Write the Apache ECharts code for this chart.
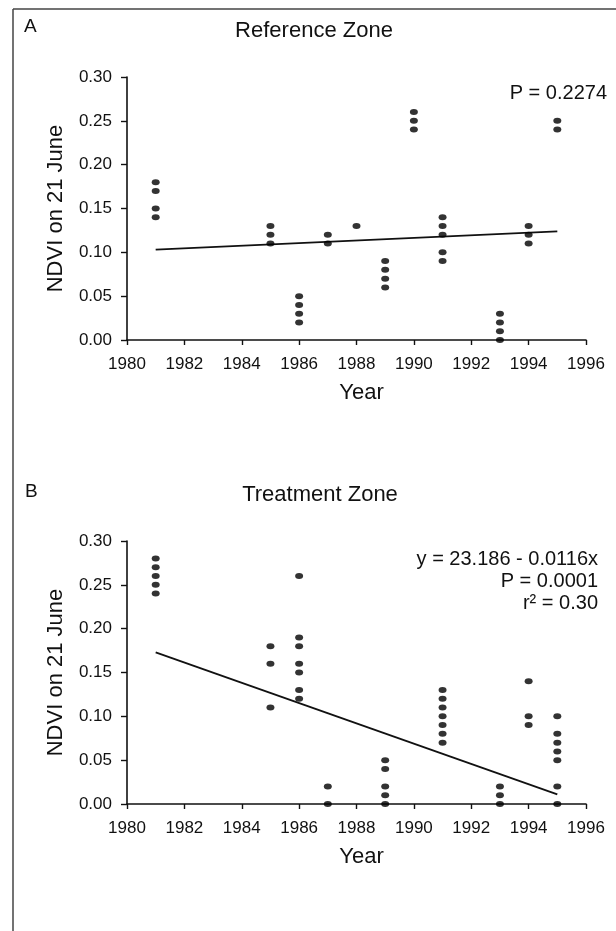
<!DOCTYPE html>
<html>
<head>
<meta charset="utf-8">
<script src="https://cdn.jsdelivr.net/npm/echarts@6/dist/echarts.min.js"></script>
<style>
html,body{margin:0;padding:0;background:#fff;}
#chart{width:616px;height:931px;}
</style>
</head>
<body>
<div id="chart"></div>
<script>
// Panel A: Reference Zone — [year, NDVI]
const refYears  = [1981,1981,1981,1981, 1985,1985,1985, 1986,1986,1986,1986, 1987,1987, 1988, 1989,1989,1989,1989, 1990,1990,1990, 1991,1991,1991,1991,1991, 1993,1993,1993,1993, 1994,1994,1994, 1995,1995];
const refNdvi   = [0.18,0.17,0.15,0.14, 0.13,0.12,0.11, 0.05,0.04,0.03,0.02, 0.12,0.11, 0.13, 0.09,0.08,0.07,0.06, 0.26,0.25,0.24, 0.14,0.13,0.12,0.10,0.09, 0.03,0.02,0.01,0.00, 0.13,0.12,0.11, 0.25,0.24];
const refLineX  = [1981, 1995];
const refLineY  = [0.103, 0.124];

// Panel B: Treatment Zone — [year, NDVI]
const trtYears  = [1981,1981,1981,1981,1981, 1985,1985,1985, 1986,1986,1986,1986,1986,1986,1986, 1987,1987, 1989,1989,1989,1989,1989, 1991,1991,1991,1991,1991,1991,1991, 1993,1993,1993, 1994,1994,1994, 1995,1995,1995,1995,1995,1995,1995];
const trtNdvi   = [0.28,0.27,0.26,0.25,0.24, 0.18,0.16,0.11, 0.26,0.19,0.18,0.16,0.15,0.13,0.12, 0.02,0.00, 0.05,0.04,0.02,0.01,0.00, 0.13,0.12,0.11,0.10,0.09,0.08,0.07, 0.02,0.01,0.00, 0.14,0.10,0.09, 0.10,0.08,0.07,0.06,0.05,0.02,0.00];
const trtLineX  = [1981, 1995];
const trtLineY  = [0.173, 0.011];

// Axis ticks
const xMin = 1980, xMax = 1996, xStep = 2;
const yMin = 0, yMax = 0.30, yStep = 0.05;

const titles = ['Reference Zone', 'Treatment Zone'];
const panelLetters = ['A', 'B'];
const annotA = 'P = 0.2274';
const annotB = 'y = 23.186 - 0.0116x\nP = 0.0001\nr\u00B2 = 0.30';

const FONT = '"Liberation Sans", Arial, Helvetica, sans-serif';
const INK = '#111111';

const zip = (a, b) => a.map((v, i) => [v, b[i]]);

function xAxis(gi) {
  return {
    type: 'value', gridIndex: gi, min: xMin, max: xMax, interval: xStep,
    name: 'Year', nameLocation: 'middle', nameGap: 42,
    nameTextStyle: { fontFamily: FONT, fontSize: 22, color: INK, padding: [0, 0, 0, 10] },
    axisLine: { show: true, onZero: false, lineStyle: { color: INK, width: 1.6 } },
    axisTick: { show: true, length: 5, lineStyle: { color: INK, width: 1.4 } },
    axisLabel: { fontFamily: FONT, fontSize: 17, color: INK, margin: 16,
      formatter: v => String(v) },
    splitLine: { show: false }
  };
}
function yAxis(gi) {
  return {
    type: 'value', gridIndex: gi, min: yMin, max: yMax, interval: yStep,
    name: 'NDVI on 21 June', nameLocation: 'middle', nameGap: 60,
    nameTextStyle: { fontFamily: FONT, fontSize: 22, color: INK },
    axisLine: { show: true, lineStyle: { color: INK, width: 1.6 } },
    axisTick: { show: true, length: 6, lineStyle: { color: INK, width: 1.4 } },
    axisLabel: { fontFamily: FONT, fontSize: 17, color: INK, margin: 15,
      formatter: v => v.toFixed(2) },
    splitLine: { show: false }
  };
}
function dots(gi, xs, ys) {
  return {
    type: 'scatter', xAxisIndex: gi, yAxisIndex: gi, data: zip(xs, ys),
    symbol: 'circle', symbolSize: [8, 6], clip: false,
    itemStyle: { color: '#000' }, silent: true, z: 3
  };
}
function fit(gi, xs, ys) {
  return {
    type: 'line', xAxisIndex: gi, yAxisIndex: gi, data: zip(xs, ys),
    showSymbol: false, symbol: 'none', lineStyle: { color: INK, width: 1.8 },
    silent: true, z: 2
  };
}

const chart = echarts.init(document.getElementById('chart'), null, { renderer: 'canvas' });
chart.setOption({
  backgroundColor: '#ffffff',
  animation: false,
  title: [
    { text: titles[0], left: 314, top: 20, textAlign: 'center', padding: 0,
      textStyle: { fontFamily: FONT, fontSize: 22, fontWeight: 'normal', color: INK } },
    { text: titles[1], left: 320, top: 484, textAlign: 'center', padding: 0,
      textStyle: { fontFamily: FONT, fontSize: 22, fontWeight: 'normal', color: INK } },
    { text: panelLetters[0], left: 24, top: 17, padding: 0,
      textStyle: { fontFamily: FONT, fontSize: 19, fontWeight: 'normal', color: INK } },
    { text: panelLetters[1], left: 25, top: 482, padding: 0,
      textStyle: { fontFamily: FONT, fontSize: 19, fontWeight: 'normal', color: INK } }
  ],
  grid: [
    { left: 127, top: 77, width: 459, height: 263, containLabel: false },
    { left: 127, top: 541, width: 459, height: 263, containLabel: false }
  ],
  xAxis: [xAxis(0), xAxis(1)],
  yAxis: [yAxis(0), yAxis(1)],
  series: [
    fit(0, refLineX, refLineY), dots(0, refYears, refNdvi),
    fit(1, trtLineX, trtLineY), dots(1, trtYears, trtNdvi)
  ],
  graphic: [
    { type: 'line', shape: { x1: 13, y1: 9, x2: 13, y2: 931 },
      style: { stroke: '#444', lineWidth: 1.5 } },
    { type: 'line', shape: { x1: 13, y1: 9, x2: 616, y2: 9 },
      style: { stroke: '#444', lineWidth: 1.5 } },
    { type: 'text', x: 607, y: 83,
      style: { text: annotA, font: '20px ' + FONT, fill: INK, textAlign: 'right', textVerticalAlign: 'top' } },
    { type: 'text', x: 598, y: 548,
      style: { text: annotB, font: '20px ' + FONT, fill: INK, textAlign: 'right', textVerticalAlign: 'top', lineHeight: 22 } }
  ]
});
</script>
</body>
</html>
